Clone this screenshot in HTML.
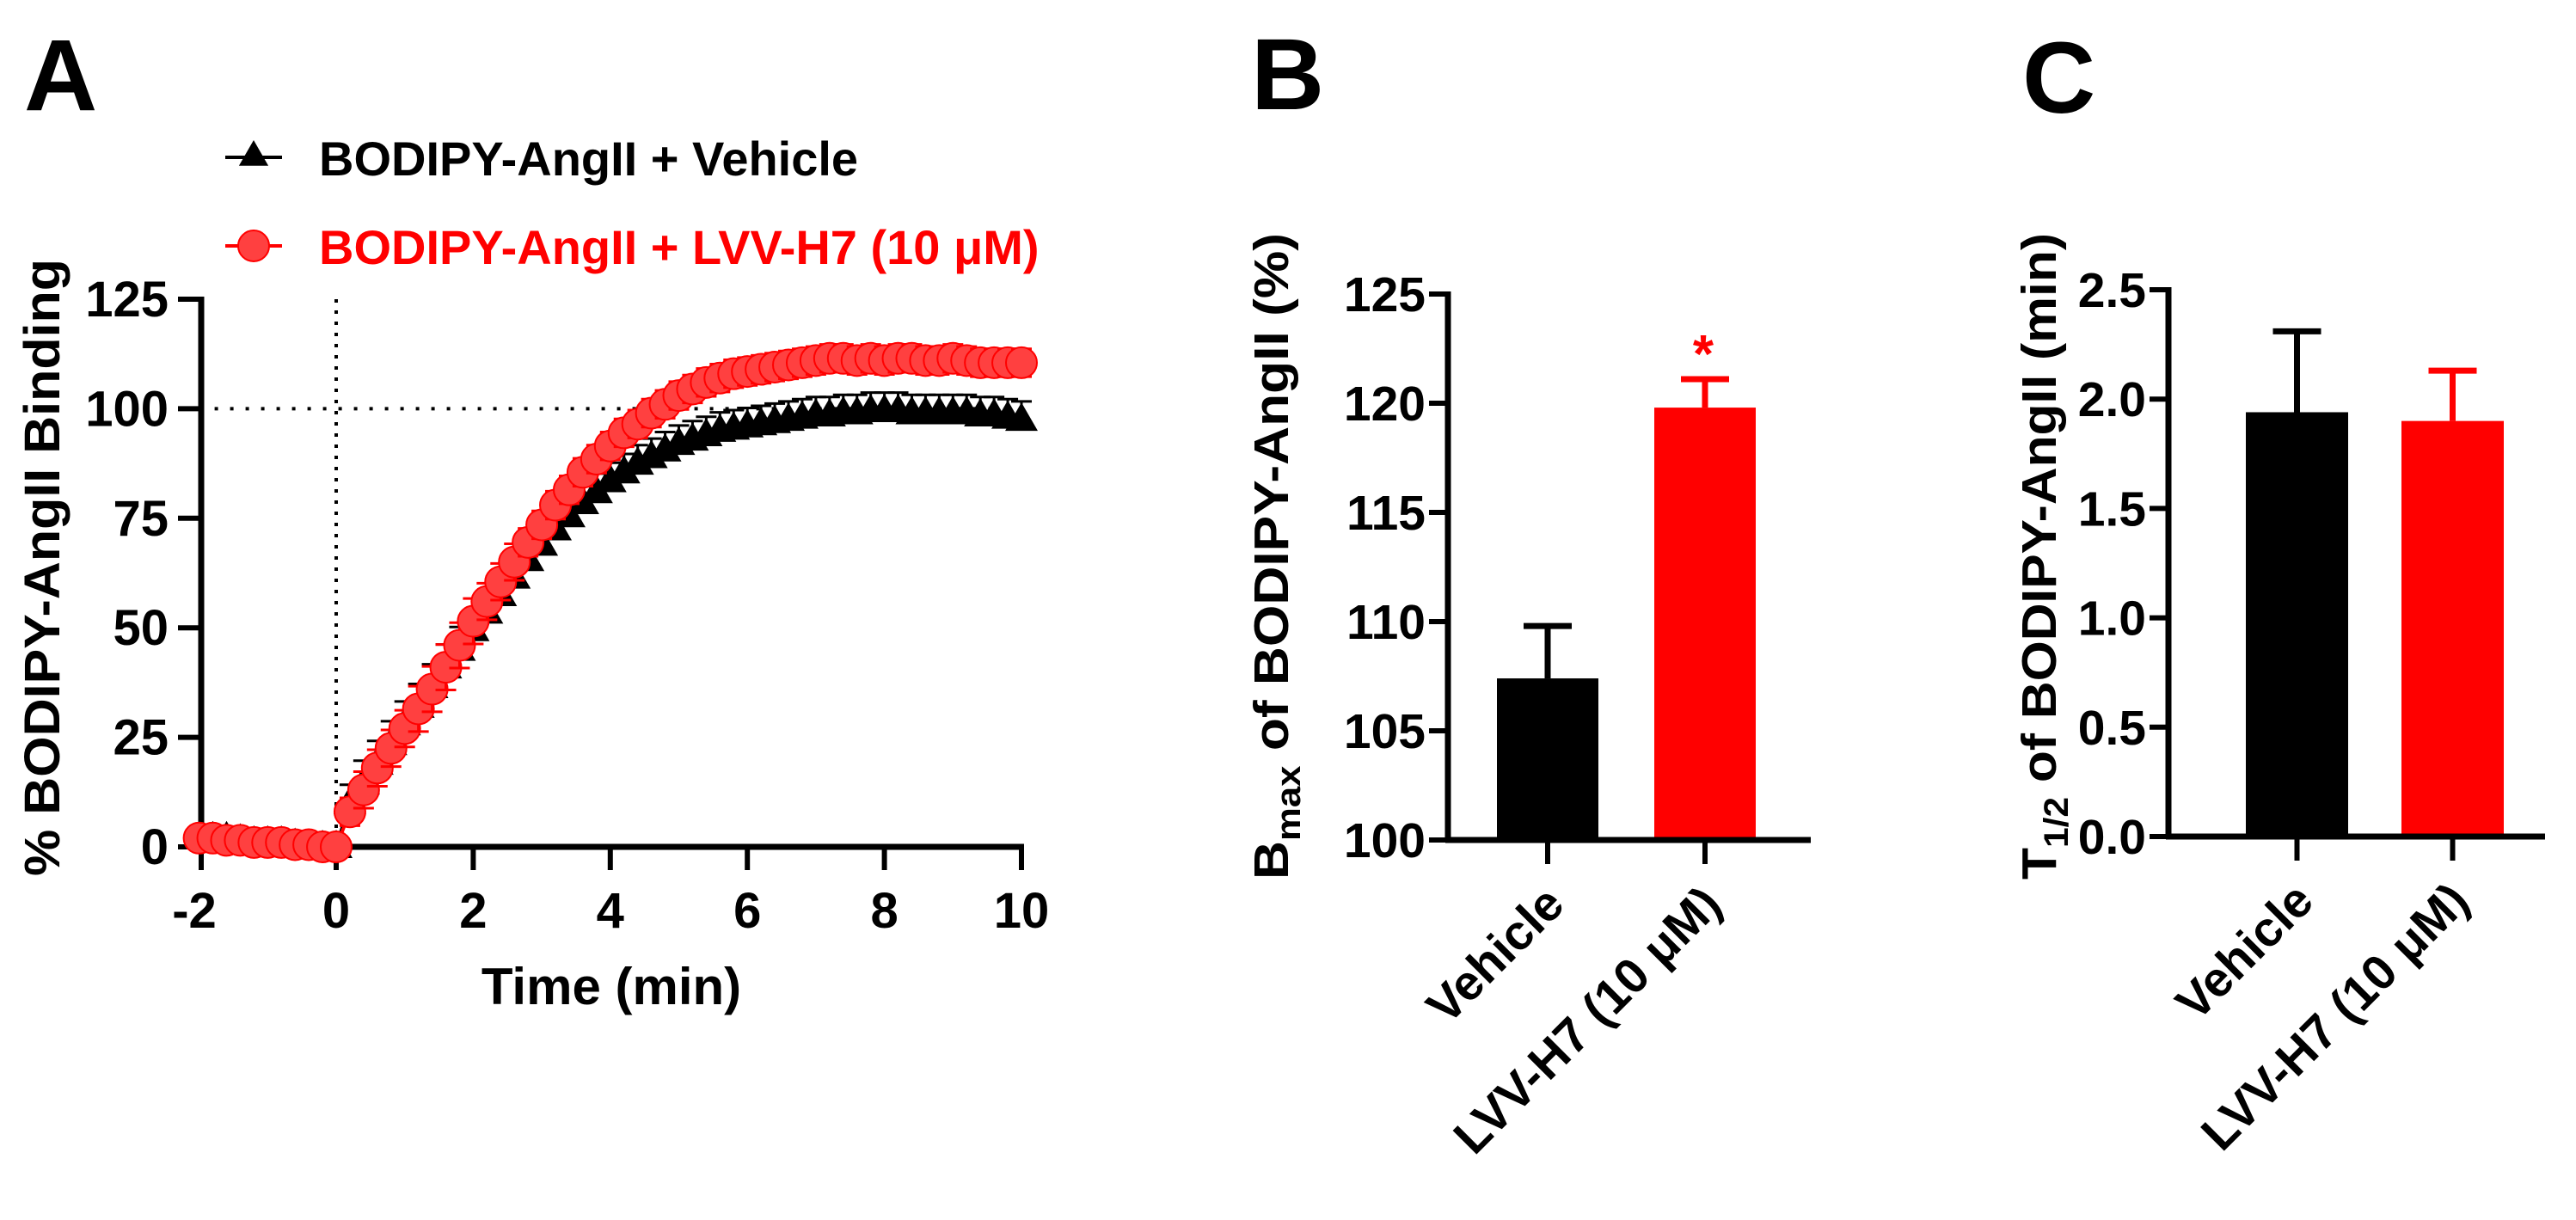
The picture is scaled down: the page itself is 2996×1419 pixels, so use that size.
<!DOCTYPE html>
<html><head><meta charset="utf-8"><style>
html,body{margin:0;padding:0;background:#fff}
svg{display:block}
text{font-family:"Liberation Sans",Arial,sans-serif;font-weight:bold}
</style></head><body>
<svg id="fig" width="2996" height="1419" viewBox="0 0 2996 1419" xmlns="http://www.w3.org/2000/svg">
<g id="pa"></g>
<g id="pb"></g>
<g id="pc"></g>
</svg>
<script>
const times=[-2,-1.8,-1.6,-1.4,-1.2,-1,-0.8,-0.6,-0.4,-0.2,0,0.2,0.4,0.6,0.8,1,1.2,1.4,1.6,1.8,2,2.2,2.4,2.6,2.8,3,3.2,3.4,3.6,3.8,4,4.2,4.4,4.6,4.8,5,5.2,5.4,5.6,5.8,6,6.2,6.4,6.6,6.8,7,7.2,7.4,7.6,7.8,8,8.2,8.4,8.6,8.8,9,9.2,9.4,9.6,9.8,10];
const vehicleVals=[2,2,2,1.5,1,1,1,0.5,0,0,0,10,14.5,19,23.5,28,32,36.5,41,45,49.5,53.5,57.5,61.5,65.5,69,72.5,75.5,78.5,81,83.5,85.5,87.5,89,90.5,92,93,94,95,95.5,96,96.5,97,97.5,98,98.5,98.5,99,99,99.5,99.5,99.5,99,99,99,99,99,98.5,98.5,98,97.5];
const lvvVals=[2,2,1.5,1.5,1,1,1,0.5,0.5,0,0,8,13,18,22.5,27,31.5,36,41,46,51.5,56,60.5,65,69.5,73.5,78,81.5,85.5,88.5,91.5,94.5,96.5,99,101,103,104.5,106,107,108,108.5,109,109.5,110,110.5,111,111.5,111.5,111,111.5,111,111.5,111.5,111,111,111.5,111,110.5,110.5,110.5,110.5];
const vehicleErr=[1,1,1,1,1,1,1,1,1,1,0,3,4,4,4,4,4,4,4,4,3,3,3,3,3,3,3,3,3,3,3,3,3,3,3,3,3,3,3,3,3,3,3,3,3,3,3,3,3,3,3,3,3,3,3,3,3,3,3,3,3];
const lvvErr=[1,1,1,1,1,1,1,1,1,1,0,2,3,3,3,3,4,4,4,4,4,3,3,3,2,2,2,2,2,2,2,2,2,2,2,2,2,2,2,2,2,2,2,2,2,2,2,2,2,2,2,2,2,2,2,2,2,2,2,2,2];
const xTicksA=[-2,0,2,4,6,8,10];
const yTicksA=[0,25,50,75,100,125];
const barCats=["Vehicle","LVV-H7 (10 \u03bcM)"];
const bmaxVals=[107.4,119.8];
const bmaxErr=[2.4,1.3];
const yTicksB=[100,105,110,115,120,125];
const thalfVals=[1.94,1.90];
const thalfErr=[0.37,0.23];
const yTicksC=[0.0,0.5,1.0,1.5,2.0,2.5];
const RED="#ff0000", RED2="#ff4040";
const NS="http://www.w3.org/2000/svg";
function mk(parent,tag,attrs,txt){const e=document.createElementNS(NS,tag);for(const k in attrs)e.setAttribute(k,attrs[k]);if(txt!==undefined)e.textContent=txt;parent.appendChild(e);return e;}

// ---------- Panel A ----------
const A=document.getElementById('pa');
const ax=t=>391+(t-0)*(1188-391)/10;
const ay=v=>985-v*(985-348)/125;
let e;
e=mk(A,'text',{x:28,y:128,'font-size':118});e.textContent='A';


e=mk(A,'line',{x1:ax(0),y1:ay(125),x2:ax(0),y2:ay(0),stroke:'#000','stroke-width':4,'stroke-dasharray':'4 9'});


e=mk(A,'line',{x1:ax(-2),y1:ay(100),x2:ax(10),y2:ay(100),stroke:'#000','stroke-width':4,'stroke-dasharray':'4 14'});


e=mk(A,'line',{x1:234,y1:ay(125)-3,x2:234,y2:ay(0)+3,stroke:'#000','stroke-width':7});


e=mk(A,'line',{x1:231,y1:ay(0),x2:ax(10)+3,y2:ay(0),stroke:'#000','stroke-width':7});


yTicksA.forEach(v=>{
  const t=mk(A,'line',{x1:207,y1:ay(v),x2:234,y2:ay(v),stroke:'#000','stroke-width':6});
  
  
  const l=mk(A,'text',{x:196,y:ay(v)+20,'font-size':58,'text-anchor':'end'},String(v));
  
  
});
xTicksA.forEach(v=>{
  const x=v===-2?234:ax(v);
  const t=mk(A,'line',{x1:x,y1:ay(0),x2:x,y2:1012,stroke:'#000','stroke-width':6});
  
  
  const l=mk(A,'text',{x:x-(v<0?8:0),y:1079,'font-size':58,'text-anchor':'middle'},String(v));
  
  
});
e=mk(A,'text',{x:711,y:1168,'font-size':60,'text-anchor':'middle'},'Time (min)');


e=mk(A,'text',{x:0,y:0,'font-size':58,'text-anchor':'middle',transform:'translate(69,660) rotate(-90)',textLength:718,lengthAdjust:'spacingAndGlyphs'},'% BODIPY-AngII Binding');


function tri(g,cx,cy,s,fill){return mk(g,'polygon',{points:`${cx},${cy-s} ${cx+s*0.95},${cy+s*0.65} ${cx-s*0.95},${cy+s*0.65}`,fill:fill});}
const gV=mk(A,'g',{});


mk(gV,'polyline',{points:times.map((t,i)=>ax(t)+','+ay(vehicleVals[i])).join(' '),fill:'none',stroke:'#000','stroke-width':4});
times.forEach((t,i)=>{
  const x=ax(t),y=ay(vehicleVals[i]),d=vehicleErr[i]*(985-348)/125;
  if(d>0){const eb=mk(gV,'path',{d:`M${x},${y} V${y-d-6} M${x-12},${y-d-6} H${x+12}`,stroke:'#000','stroke-width':3,fill:'none'});
  
  }
  const m=tri(gV,x,y,20,'#000');
  
  
});
const gL=mk(A,'g',{});


mk(gL,'polyline',{points:times.map((t,i)=>ax(t)+','+ay(lvvVals[i])).join(' '),fill:'none',stroke:RED,'stroke-width':4});
times.forEach((t,i)=>{
  const x=ax(t),y=ay(lvvVals[i]),d=lvvErr[i]*(985-348)/125;
  if(d>0){const eb=mk(gL,'path',{d:`M${x},${y+d+6} V${y-d-6} M${x-12},${y-d-6} H${x+12} M${x-12},${y+d+6} H${x+12}`,stroke:RED,'stroke-width':3,fill:'none'});
  
  }
  const m=mk(gL,'circle',{cx:x,cy:y,r:18,fill:RED2,stroke:RED,'stroke-width':2});
  
  
});
const lg1=mk(A,'g',{});


mk(lg1,'line',{x1:262,y1:183,x2:328,y2:183,stroke:'#000','stroke-width':4});
tri(lg1,295,181,18,'#000');
mk(lg1,'text',{x:371,y:204,'font-size':56},'BODIPY-AngII + Vehicle');
const lg2=mk(A,'g',{});


mk(lg2,'line',{x1:262,y1:286,x2:328,y2:286,stroke:RED,'stroke-width':4});
mk(lg2,'circle',{cx:295,cy:286,r:18,fill:RED2,stroke:RED,'stroke-width':2});
mk(lg2,'text',{x:371,y:307,'font-size':56,fill:RED},'BODIPY-AngII + LVV-H7 (10 \u03bcM)');

function barPanel(g,o){
  const y=v=>o.y0-(v-o.vmin)*(o.y0-o.ytop)/(o.vmax-o.vmin);
  let e=mk(g,'text',{x:o.lx,y:o.ly,'font-size':118},o.letter);
  
  
  o.vals.forEach((v,i)=>{
    const x0=o.barX[i],col=i===0?'#000':RED;
    const top=y(v),et=y(v+o.errs[i]);
    const eb=mk(g,'path',{d:`M${x0+o.bw/2},${top} V${et} M${x0+o.bw/2-28},${et} H${x0+o.bw/2+28}`,stroke:col,'stroke-width':7,fill:'none'});
    
    
    const r=mk(g,'rect',{x:x0,y:top,width:o.bw,height:o.y0-top,fill:col});
    
    
  });
  e=mk(g,'line',{x1:o.ax,y1:o.ytop-3,x2:o.ax,y2:o.y0+3,stroke:'#000','stroke-width':7});
  
  
  e=mk(g,'line',{x1:o.ax-3,y1:o.y0,x2:o.axEnd,y2:o.y0,stroke:'#000','stroke-width':7});
  
  
  o.ticks.forEach(v=>{
    const t=mk(g,'line',{x1:o.ax-22,y1:y(v),x2:o.ax,y2:y(v),stroke:'#000','stroke-width':6});
    
    
    const l=mk(g,'text',{x:o.ax-26,y:y(v)+20,'font-size':57,'text-anchor':'end'},o.fmt(v));
    
    
  });
  barCats.forEach((c,i)=>{
    const cx=o.barX[i]+o.bw/2;
    const t=mk(g,'line',{x1:cx,y1:o.y0,x2:cx,y2:o.y0+28,stroke:'#000','stroke-width':6});
    
    
    const l=mk(g,'text',{x:0,y:0,'font-size':57,'text-anchor':'end',transform:`translate(${cx+22},${o.y0+78}) rotate(-45)`},c);
    
    
  });
  const tt=mk(g,'text',{x:0,y:0,'font-size':57,'text-anchor':'middle',transform:`translate(${o.tx+20},647) rotate(-90)`,textLength:752,lengthAdjust:'spacingAndGlyphs'});
  
  
  mk(tt,'tspan',{},o.t1);
  mk(tt,'tspan',{'font-size':40,dy:14},o.sub);
  mk(tt,'tspan',{dy:-14},o.t2);
  return y;
}
const yB=barPanel(document.getElementById('pb'),{letter:'B',letterName:'panel-b-label',lx:1455,ly:127,
  vals:bmaxVals,errs:bmaxErr,vmin:100,vmax:125,y0:977,ytop:342,ax:1684,axEnd:2106,barX:[1741,1924],bw:118,
  ticks:yTicksB,fmt:v=>String(v),tx:1478,t1:'B',sub:'max',t2:' of BODIPY-AngII (%)'});
e=mk(document.getElementById('pb'),'text',{x:1981,y:yB(bmaxVals[1]+bmaxErr[1])-8,'font-size':62,fill:RED,'text-anchor':'middle'},'*');


barPanel(document.getElementById('pc'),{letter:'C',letterName:'panel-c-label',lx:2352,ly:131,
  vals:thalfVals,errs:thalfErr,vmin:0,vmax:2.5,y0:973,ytop:337,ax:2522,axEnd:2960,barX:[2612,2793],bw:119,
  ticks:yTicksC,fmt:v=>v.toFixed(1),tx:2371,t1:'T',sub:'1/2',t2:' of BODIPY-AngII (min)'});
</script>
</body></html>
